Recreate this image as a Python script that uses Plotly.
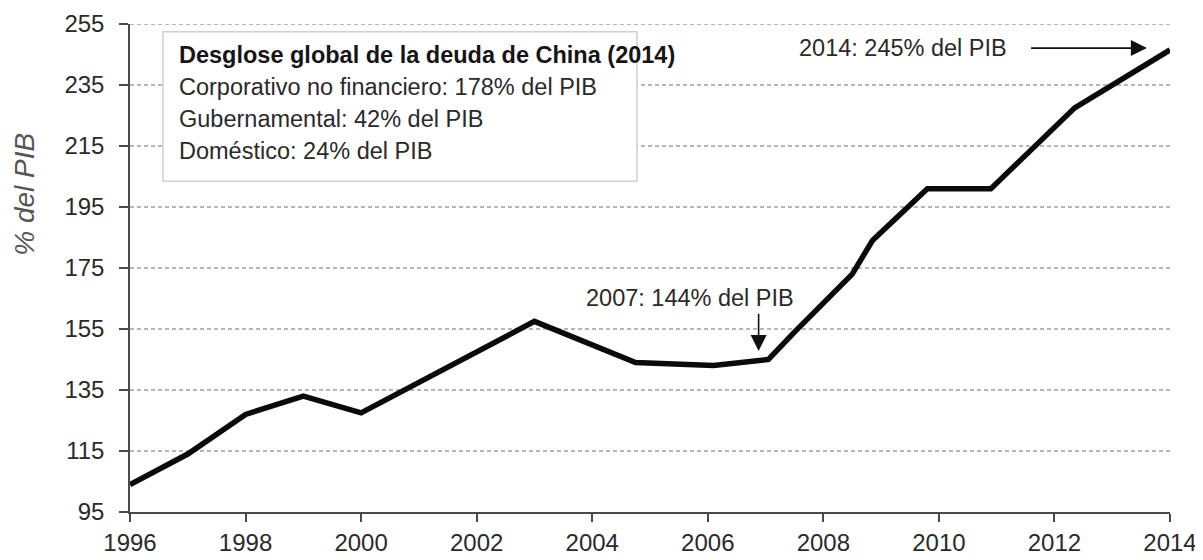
import plotly.graph_objects as go

# Data
years = [1996, 1997, 1998, 1999, 2000, 2003, 2004.75, 2006.1, 2007.05,
         2007.5, 2008.5, 2008.85, 2009.8, 2010.9, 2012.35, 2014]
debt_pct_gdp = [104, 114, 127, 133, 127.5, 157.5, 144, 143, 145,
                154, 173, 184, 201, 201, 227.5, 246.5]

x_ticks = [1996, 1998, 2000, 2002, 2004, 2006, 2008, 2010, 2012, 2014]
y_ticks = [95, 115, 135, 155, 175, 195, 215, 235, 255]

box_title = "Desglose global de la deuda de China (2014)"
box_lines = ["Corporativo no financiero: 178% del PIB",
             "Gubernamental: 42% del PIB",
             "Doméstico: 24% del PIB"]
note_2007 = "2007: 144% del PIB"
note_2014 = "2014: 245% del PIB"
y_title = "% del PIB"

FONT = "Liberation Sans, Arial, sans-serif"
TXT = "#2a2a2a"
FS = 23.5

fig = go.Figure()
fig.add_trace(go.Scatter(
    x=years, y=debt_pct_gdp, mode="lines",
    line=dict(color="#0a0a0a", width=5.5),
    hoverinfo="skip", showlegend=False,
))

# dotted horizontal gridlines (excluding the bottom axis)
for v in y_ticks[1:]:
    fig.add_shape(type="line", xref="paper", yref="y", x0=0, x1=1, y0=v, y1=v,
                  line=dict(color="#a0a0a0", width=1.5, dash="4px,3px"),
                  layer="below")

# info box
fig.add_shape(type="rect", xref="paper", yref="paper",
              x0=0.0317, x1=0.4875, y0=0.678, y1=0.984,
              line=dict(color="#cfcfcf", width=1.5), fillcolor="white",
              layer="above")

fig.add_annotation(xref="paper", yref="paper", x=0.045, y=0.937,
                   xanchor="left", yanchor="middle", showarrow=False,
                   text="<b>" + box_title + "</b>",
                   font=dict(family=FONT, size=FS, color="#151515"))
for i, t in enumerate(box_lines):
    fig.add_annotation(xref="paper", yref="paper", x=0.045,
                       y=0.870 - i * 0.0655,
                       xanchor="left", yanchor="middle", showarrow=False,
                       text=t, font=dict(family=FONT, size=FS, color=TXT))

# y-axis title placed as rotated annotation
fig.add_annotation(xref="paper", yref="paper", x=-0.101, y=0.652,
                   xanchor="center", yanchor="middle", showarrow=False,
                   textangle=-90, text="<i>" + y_title + "</i>",
                   font=dict(family=FONT, size=28, color="#555"))

# 2007 annotation
fig.add_annotation(x=2005.7, y=165.3, xref="x", yref="y", showarrow=False,
                   text=note_2007, xanchor="center", yanchor="middle",
                   font=dict(family=FONT, size=FS, color=TXT))
fig.add_annotation(x=2006.88, y=147.8, ax=2006.88, ay=160.5,
                   xref="x", yref="y", axref="x", ayref="y",
                   text="", showarrow=True, arrowhead=2, arrowsize=2,
                   arrowwidth=1.6, arrowcolor="#111")

# 2014 annotation
fig.add_annotation(x=2009.38, y=247.1, xref="x", yref="y", showarrow=False,
                   text=note_2014, xanchor="center", yanchor="middle",
                   font=dict(family=FONT, size=FS, color=TXT))
fig.add_annotation(x=2013.6, y=247.1, ax=2011.57, ay=247.1,
                   xref="x", yref="y", axref="x", ayref="y",
                   text="", showarrow=True, arrowhead=2, arrowsize=2,
                   arrowwidth=1.6, arrowcolor="#111")

# The page places the figure 8px from the top-left corner, so the figure
# is sized to the visible 1195x552 area.
fig.update_layout(
    width=1195, height=552,
    margin=dict(l=122, r=33, t=16, b=48, autoexpand=False),
    paper_bgcolor="white", plot_bgcolor="white",
    font=dict(family=FONT, color=TXT),
    xaxis=dict(range=[1996, 2014], tickvals=x_ticks,
               ticktext=[str(t) for t in x_ticks],
               showgrid=False, zeroline=False, automargin=False,
               showline=True, linecolor="#4a4a4a", linewidth=1.5,
               ticks="outside", ticklen=8, tickwidth=1.5, tickcolor="#4a4a4a",
               tickfont=dict(family=FONT, size=24, color=TXT)),
    yaxis=dict(range=[95, 255], tickvals=y_ticks,
               ticktext=[str(t) for t in y_ticks],
               showgrid=False, zeroline=False, automargin=False,
               showline=True, linecolor="#4a4a4a", linewidth=1.5,
               ticks="outside", ticklen=9, tickwidth=1.5, tickcolor="#4a4a4a",
               ticklabelstandoff=10,
               tickfont=dict(family=FONT, size=24, color=TXT)),
)

fig.write_html("out.html")
